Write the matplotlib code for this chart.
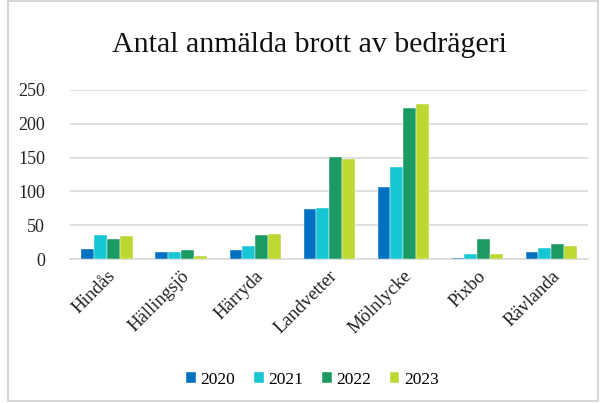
import matplotlib
matplotlib.use("Agg")
import matplotlib.pyplot as plt
import numpy as np
from matplotlib.patches import Rectangle

places = ["Hindås", "Hällingsjö", "Härryda", "Landvetter", "Mölnlycke", "Pixbo", "Rävlanda"]
years = ["2020", "2021", "2022", "2023"]
v2020 = [15, 11, 14, 74, 106, 2, 10]
v2021 = [35, 10, 19, 75, 136, 8, 16]
v2022 = [30, 14, 35, 151, 223, 30, 23]
v2023 = [34, 5, 37, 148, 229, 8, 20]
series = [v2020, v2021, v2022, v2023]
colors = ["#0070c0", "#17c6d3", "#1b9b63", "#bdd733"]

plt.rcParams["font.family"] = ["Liberation Serif", "DejaVu Serif"]

fig = plt.figure(figsize=(6.01, 4.03), dpi=100)
ax = fig.add_axes([0.1165, 0.357, 0.862, 0.42])

x = np.arange(len(places))
w = 0.165
for i, (vals, c, lab) in enumerate(zip(series, colors, years)):
    ax.bar(x + (i - 1.5) * 0.175, vals, width=w, color=c, label=lab,
           edgecolor="white", linewidth=0.3, zorder=3)

ax.set_xlim(-0.5, len(places) - 0.5)
ax.set_ylim(0, 250)
ax.set_yticks(range(0, 251, 50))
ax.yaxis.grid(True, color="#d9d9d9", linewidth=1.2, zorder=0)
ax.set_axisbelow(True)
for s in ["top", "right", "left"]:
    ax.spines[s].set_visible(False)
ax.spines["bottom"].set_color("#d9d9d9")
ax.spines["bottom"].set_linewidth(1.2)
ax.tick_params(axis="both", length=0, labelsize=13, colors="#222222")
ax.tick_params(axis="y", pad=18)
ax.set_xticks(x)
ax.set_xticklabels(places, rotation=45, ha="right", rotation_mode="anchor", fontsize=13.5)
ax.tick_params(axis="x", pad=6)

fig.text(0.515, 0.888, "Antal anmälda brott av bedrägeri", ha="center", va="center",
         fontsize=21.5, color="#111111")

fig.legend(loc="center", bbox_to_anchor=(0.52, 0.058), ncol=4, frameon=False,
           fontsize=12.5, handlelength=0.55, handleheight=0.55, handletextpad=0.25,
           columnspacing=1.1)

fig.patches.append(Rectangle((0.013, 0.004), 0.982, 0.994, transform=fig.transFigure,
                             fill=False, edgecolor="#d0d0d0", linewidth=1.2))

fig.savefig("out.png", dpi=100)
